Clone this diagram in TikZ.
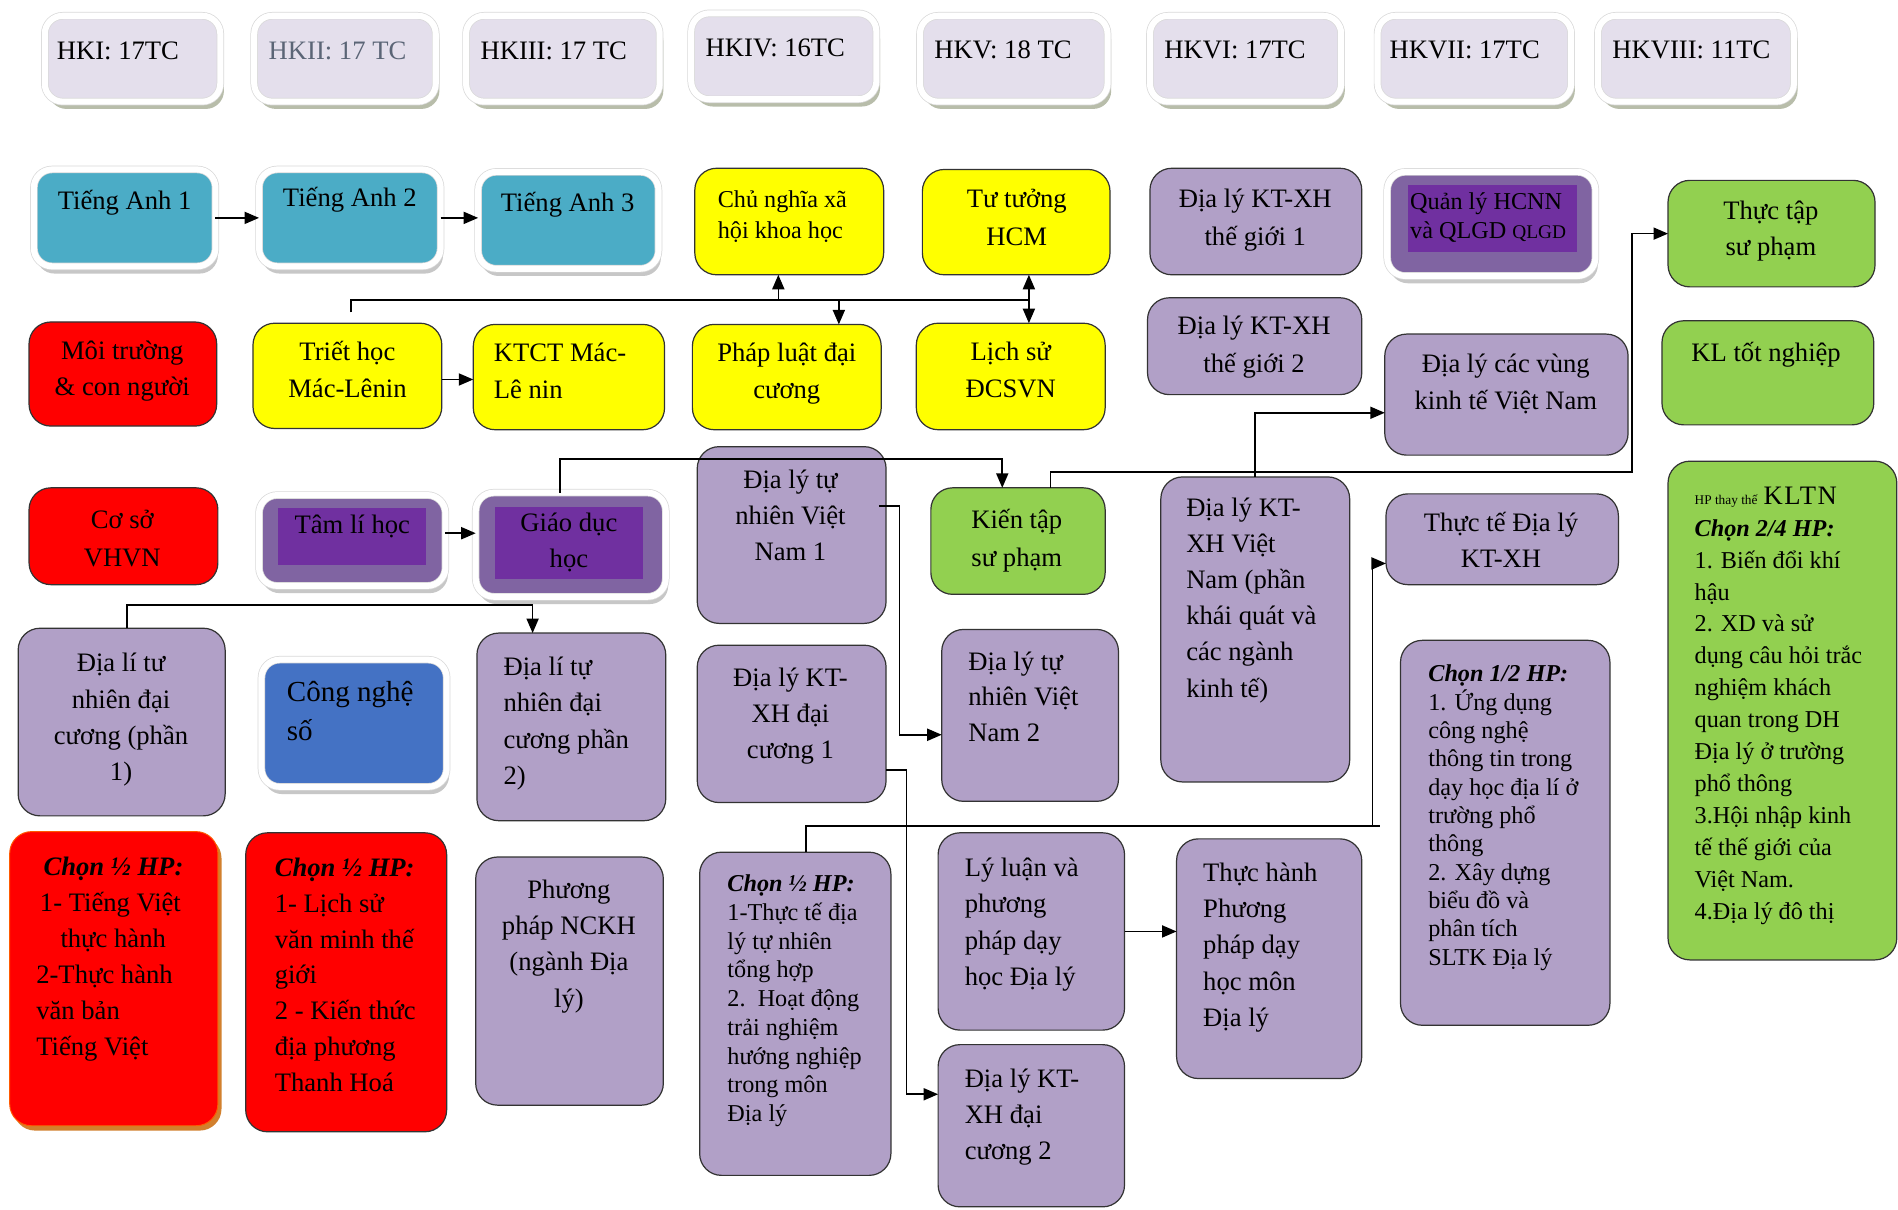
\documentclass[tikz,border=0pt]{standalone}
\usepackage{fontspec}
\setmainfont{Liberation Serif}
\usetikzlibrary{arrows.meta,shadows,calc}
\definecolor{hdrfill}{HTML}{E4DFEC}
\definecolor{tealc}{HTML}{4BACC6}
\definecolor{ylwc}{HTML}{FFFF00}
\definecolor{redc}{HTML}{FF0000}
\definecolor{lpur}{HTML}{B1A0C7}
\definecolor{mpur}{HTML}{8064A2}
\definecolor{dpur}{HTML}{7030A0}
\definecolor{grnc}{HTML}{92D050}
\definecolor{bluec}{HTML}{4472C4}
\definecolor{hdrshadow}{HTML}{B8BDAA}
\definecolor{slate}{HTML}{5B6576}
\newcommand\fsz[2]{\fontsize{#1}{#2}\selectfont\lineskiplimit=-30pt}
\newcommand\bx[6]{\node[#2,anchor=north west,minimum width={#5-#3},minimum height={#6-#4}] (#1) at (#3,#4) {};}
\tikzset{
 bxbase/.style={rounded corners=18pt, inner sep=0pt, outer sep=0pt},
 blk/.style={bxbase, draw=black!80, line width=1pt},
 ylwbox/.style={blk, fill=ylwc},
 redbox/.style={blk, fill=redc},
 purbox/.style={blk, fill=lpur},
 grnbox/.style={blk, fill=grnc},
 glowbox/.style={bxbase, rounded corners=15pt, draw=black!15, double=white, double distance=5pt, line width=0.6pt},
 hdrbox/.style={glowbox, fill=hdrfill, drop shadow={shadow xshift=3pt, shadow yshift=-6pt, fill=hdrshadow, opacity=1}},
 tealbox/.style={glowbox, fill=tealc, drop shadow={shadow xshift=2pt, shadow yshift=-6pt, fill=black!22, opacity=1}},
 mpurbox/.style={glowbox, fill=mpur, drop shadow={shadow xshift=2pt, shadow yshift=-6pt, fill=black!22, opacity=1}},
 bluebox/.style={glowbox, fill=bluec, drop shadow={shadow xshift=2pt, shadow yshift=-6pt, fill=black!22, opacity=1}},
 chonred/.style={bxbase, fill=redc, draw=orange!70!red, line width=0.8pt, drop shadow={shadow xshift=3pt, shadow yshift=-4pt, fill=brown!70!orange, opacity=1}},
 innerbox/.style={fill=dpur, inner sep=0pt, outer sep=0pt},
 txt/.style={inner sep=0pt, outer sep=0pt, font=\fsz{22}{30}},
 ln/.style={line width=1.3pt, draw=black},
 arr/.style={ln, -{Triangle[length=12pt,width=10pt]}},
 arrtwo/.style={ln, {Triangle[length=12pt,width=10pt]}-{Triangle[length=12pt,width=10pt]}},
}
\begin{document}
\begin{tikzpicture}[x=1pt,y=-1pt]
\fill[white] (0,0) rectangle (1568,999);
\useasboundingbox (0,0) rectangle (1568,999);
% headers
\bx{h1}{hdrbox}{37}{13}{182}{84}
\bx{h2}{hdrbox}{210}{13}{360}{84}
\bx{h3}{hdrbox}{385}{13}{545}{84}
\bx{h4}{hdrbox}{571}{11}{724}{82}
\bx{h5}{hdrbox}{760}{13}{915}{84}
\bx{h6}{hdrbox}{950}{13}{1108}{84}
\bx{h7}{hdrbox}{1138}{13}{1298}{84}
\bx{h8}{hdrbox}{1320}{13}{1482}{84}
% row 1
\bx{ta1}{tealbox}{28}{140}{178}{220}
\bx{ta2}{tealbox}{214}{140}{364}{220}
\bx{ta3}{tealbox}{395}{142}{544}{222}
\bx{cnxh}{ylwbox}{574}{139}{730}{227}
\bx{hcm}{ylwbox}{762}{140}{917}{227}
\bx{dltg1}{purbox}{950}{139}{1125}{227}
\bx{qly}{mpurbox}{1146}{142}{1318}{228}
\node[innerbox,anchor=north west,minimum width=140,minimum height=55] (qlyin) at (1163,153) {};
\bx{thuctap}{grnbox}{1378}{149}{1549}{237}
% row 2
\bx{moitruong}{redbox}{24}{266}{179}{352}
\bx{triet}{ylwbox}{209}{267}{365}{354}
\bx{ktct}{ylwbox}{391}{268}{549}{355}
\bx{phapluat}{ylwbox}{572}{268}{728}{355}
\bx{lichsu}{ylwbox}{757}{267}{913}{355}
\bx{dltg2}{purbox}{948}{246}{1125}{326}
\bx{dlcv}{purbox}{1144}{276}{1345}{376}
\bx{kltn}{grnbox}{1373}{265}{1548}{351}
% row 3
\bx{coso}{redbox}{24}{403}{180}{483}
\bx{tamli}{mpurbox}{214}{409}{368}{484}
\node[innerbox,anchor=north west,minimum width=122,minimum height=47] (tamliin) at (230,420) {};
\bx{giaoduc}{mpurbox}{393}{407}{550}{493}
\node[innerbox,anchor=north west,minimum width=122,minimum height=59] (giaoducin) at (409,419) {};
\bx{tnvn1}{purbox}{576}{369}{732}{515}
\bx{kientap}{grnbox}{769}{403}{913}{491}
\bx{dlvn}{purbox}{959}{394}{1115}{646}
\bx{thucte}{purbox}{1145}{408}{1337}{483}
\bx{klthay}{grnbox}{1378}{381}{1567}{793}
% row 4
\bx{tndc1}{purbox}{15}{519}{186}{674}
\bx{cns}{bluebox}{216}{545}{369}{650}
\bx{tndc2}{purbox}{394}{523}{550}{678}
\bx{ktdc1}{purbox}{576}{533}{732}{663}
\bx{tnvn2}{purbox}{778}{520}{924}{662}
\bx{chon12}{purbox}{1157}{529}{1330}{847}
% row 5
\bx{chon1}{chonred}{8}{687}{180}{930}
\bx{chon2}{redbox}{203}{688}{369}{935}
\bx{ppnckh}{purbox}{393}{708}{548}{913}
\bx{chon3}{purbox}{578}{704}{736}{971}
\bx{lyluan}{purbox}{775}{688}{929}{851}
\bx{ktdc2}{purbox}{775}{863}{929}{997}
\bx{thpp}{purbox}{972}{693}{1125}{891}

% texts: headers
\node[txt,anchor=base west] (th1) at (47,49) {HKI: 17TC};
\node[txt,anchor=base west,text=slate] (th2) at (222,49) {HKII: 17 TC};
\node[txt,anchor=base west] (th3) at (397,49) {HKIII: 17 TC};
\node[txt,anchor=base west] (th4) at (583,47) {HKIV: 16TC};
\node[txt,anchor=base west] (th5) at (772,48) {HKV: 18 TC};
\node[txt,anchor=base west] (th6) at (962,48) {HKVI: 17TC};
\node[txt,anchor=base west] (th7) at (1148,48) {HKVII: 17TC};
\node[txt,anchor=base west] (th8) at (1332,48) {HKVIII: 11TC};
% row 1 texts
\node[txt,anchor=base] (tta1) at (103,173) {Tiếng Anh 1};
\node[txt,anchor=base] (tta2) at (289,171) {Tiếng Anh 2};
\node[txt,anchor=base] (tta3) at (469,175) {Tiếng Anh 3};
\node[txt,font=\fsz{20}{26},align=left,anchor=north west] (tcnxh) at (593,153) {\strut Chủ nghĩa xã\\hội khoa học};
\node[txt,font=\fsz{22}{31},align=center,anchor=north] (thcm) at (840,150) {\strut Tư tưởng\\HCM};
\node[txt,font=\fsz{22}{31},align=center,anchor=north] (tdltg1) at (1037,150) {\strut Địa lý KT-XH\\thế giới 1};
\node[txt,font=\fsz{20}{24},align=left,anchor=north west] (tqly) at (1165,156) {\strut Quản lý HCNN\\và QLGD {\fsz{16}{24}QLGD}};
\node[txt,align=center,anchor=north] (tthuctap) at (1463,160) {\strut Thực tập\\sư phạm};
% row 2 texts
\node[txt,align=center,anchor=north] (tmoitruong) at (101,276) {\strut Môi trường\\\& con người};
\node[txt,align=center,anchor=north] (ttriet) at (287,277) {\strut Triết học\\Mác-Lênin};
\node[txt,align=left,anchor=north west] (tktct) at (408,278) {\strut KTCT Mác-\\Lê nin};
\node[txt,align=center,anchor=north] (tphapluat) at (650,278) {\strut Pháp luật đại\\cương};
\node[txt,align=center,anchor=north] (tlichsu) at (835,277) {\strut Lịch sử\\ĐCSVN};
\node[txt,font=\fsz{22}{31},align=center,anchor=north] (tdltg2) at (1036,255) {\strut Địa lý KT-XH\\thế giới 2};
\node[txt,font=\fsz{22}{31},align=center,anchor=north] (tdlcv) at (1244,286) {\strut Địa lý các vùng\\kinh tế Việt Nam};
\node[txt,align=center,anchor=north] (tkltn) at (1459,278) {\strut KL tốt nghiệp};
% row 3 texts
\node[txt,font=\fsz{22}{32},align=center,anchor=north] (tcoso) at (101,414) {\strut Cơ sở\\VHVN};
\node[txt,anchor=base] (ttamli) at (291,441) {Tâm lí học};
\node[txt,align=center,anchor=north] (tgiaoduc) at (470,418) {\strut Giáo dục\\học};
\node[txt,font=\fsz{22}{29.5},align=center,anchor=north] (ttnvn1) at (653,383) {\strut Địa lý tự\\nhiên Việt\\Nam 1};
\node[txt,font=\fsz{22}{31},align=center,anchor=north] (tkientap) at (840,415) {\strut Kiến tập\\sư phạm};
\node[txt,font=\fsz{22}{29.8},align=left,anchor=north west] (tdlvn) at (980,406) {\strut Địa lý KT-\\XH Việt\\Nam (phần\\khái quát và\\các ngành\\kinh tế)};
\node[txt,align=center,anchor=north] (tthucte) at (1240,418) {\strut Thực tế Địa lý\\KT-XH};
\node[txt,font=\fsz{20}{26.4},align=left,anchor=north west] (tklthay) at (1400,398) {\strut{\fsz{11}{26.4}HP thay thế} {\fsz{22}{26.4}\addfontfeature{LetterSpace=6}KLTN}\\\textbf{\textit{Chọn 2/4 HP:}}\\1. Biến đổi khí\\hậu\\2. XD và sử\\dụng câu hỏi trắc\\nghiệm khách\\quan trong DH\\Địa lý ở trường\\phổ thông\\3.Hội nhập kinh\\tế thế giới của\\Việt Nam.\\4.Địa lý đô thị};
% row 4 texts
\node[txt,align=center,anchor=north] (ttndc1) at (100,534) {\strut Địa lí tư\\nhiên đại\\cương (phần\\1)};
\node[txt,font=\fsz{24}{32},align=left,anchor=north west] (tcns) at (237,557) {\strut Công nghệ\\số};
\node[txt,align=left,anchor=north west] (ttndc2) at (416,537) {\strut Địa lí tự\\nhiên đại\\cương phần\\2)};
\node[txt,align=center,anchor=north] (tktdc1) at (653,546) {\strut Địa lý KT-\\XH đại\\cương 1};
\node[txt,font=\fsz{22}{29.5},align=left,anchor=north west] (ttnvn2) at (800,533) {\strut Địa lý tự\\nhiên Việt\\Nam 2};
\node[txt,font=\fsz{20}{23.4},align=left,anchor=north west] (tchon12) at (1180,547) {\strut\textbf{\textit{Chọn 1/2 HP:}}\\1. Ứng dụng\\công nghệ\\thông tin trong\\dạy học địa lí ở\\trường phổ\\thông\\2. Xây dựng\\biểu đồ và\\phân tích\\SLTK Địa lý};
% row 5 texts
\node[txt,font=\fsz{22}{29.8},align=left,anchor=north west] (tchon1) at (30,702) {\strut\hspace*{6pt}\textbf{\textit{Chọn ½ HP:}}\\\hspace*{3pt}1- Tiếng Việt\\\hspace*{20pt}thực hành\\2-Thực hành\\văn bản\\Tiếng Việt};
\node[txt,font=\fsz{22}{29.7},align=left,anchor=north west] (tchon2) at (227,703) {\strut\textbf{\textit{Chọn ½ HP:}}\\1- Lịch sử\\văn minh thế\\giới\\2 - Kiến thức\\địa phương\\Thanh Hoá};
\node[txt,align=center,anchor=north] (tppnckh) at (470,721) {\strut Phương\\pháp NCKH\\(ngành Địa\\lý)};
\node[txt,font=\fsz{20}{23.75},align=left,anchor=north west] (tchon3) at (601,720) {\strut\textbf{\textit{Chọn ½ HP:}}\\1-Thực tế địa\\lý tự nhiên\\tổng hợp\\2.\ \ Hoạt động\\trải nghiệm\\hướng nghiệp\\trong môn\\Địa lý};
\node[txt,align=left,anchor=north west] (tlyluan) at (797,703) {\strut Lý luận và\\phương\\pháp dạy\\học Địa lý};
\node[txt,align=left,anchor=north west] (tktdc2) at (797,877) {\strut Địa lý KT-\\XH đại\\cương 2};
\node[txt,align=left,anchor=north west] (tthpp) at (994,707) {\strut Thực hành\\Phương\\pháp dạy\\học môn\\Địa lý};

% connectors
\draw[arr] (ta1.east) -- (ta1.east -| ta2.west);
\draw[arr] (ta2.east) -- (ta2.east -| ta3.west);
\draw[arr] ($(triet.east)+(0,3)$) -- ($(triet.east)+(26,3)$);
\coordinate (ca) at ($(tamli.east)+(0,-6)$);
\draw[arr] (ca) -- (ca -| giaoduc.west);
\draw[arr] (lyluan.east) -- (lyluan.east -| thpp.west);
% political bus
\coordinate (bus) at ($(hcm.south)+(10.5,21)$);
\draw[ln] ($(triet.north)+(3,-9)$) |- (bus);
\coordinate (cup) at ($(cnxh.south)+(-9,0)$);
\draw[arr] (cup |- bus) -- (cup);
\coordinate (cdn) at ($(phapluat.north)+(43,0)$);
\draw[arr] (cdn |- bus) -- (cdn);
\coordinate (chc) at ($(hcm.south)+(10.5,0)$);
\draw[arrtwo] (chc) -- (chc |- lichsu.north);
% Giao duc -> Kien tap
\coordinate (gd) at ($(giaoduc.north)+(-9,0)$);
\coordinate (kt) at ($(kientap.north)+(-13,0)$);
\draw[arr] (gd) |- ($(kt)+(0,-24)$) -- (kt);
% Kien tap -> Thuc tap
\coordinate (k2) at ($(kientap.north)+(27,0)$);
\coordinate (jr) at ($(thuctap.west)+(-30,0)$);
\draw[arr] (k2) |- ($(jr |- k2)+(0,-13)$) -- (jr |- thuctap.west) -- (thuctap.west);
% DL KT-XH VN -> cac vung
\draw[arr] (dlvn.north) |- ($(dlcv.west)+(0,15)$);
% TN VN1 -> VN2
\coordinate (a1) at ($(tnvn1.east)+(-6,-24)$);
\coordinate (a2) at ($(tnvn2.west)+(-35,16)$);
\draw[arr] (a1) -| (a2) -- (a2 -| tnvn2.west);
% KT DC1 -> DC2
\coordinate (a3) at ($(ktdc1.east)+(0,38)$);
\coordinate (a4) at ($(ktdc2.west)+(-26,-26)$);
\draw[arr] (a3) -| (a4) -- (a4 -| ktdc2.west);
% Chon3 -> Thuc te
\coordinate (a5) at ($(chon3.north)+(9,0)$);
\coordinate (a6) at ($(thucte.west)+(-11,20)$);
\coordinate (a6b) at ($(a6)+(0,217)$);
\draw[arr] (a5) |- (a6b) -- (a6) -- (a6 -| thucte.west);
\draw[ln] (a6b) -- ++(6,0);
% TN DC1 -> DC2
\coordinate (a7) at ($(tndc1.north)+(4.5,0)$);
\coordinate (a8) at ($(tndc2.north)+(-32,0)$);
\draw[arr] (a7) |- ($(a8)+(0,-23)$) -- (a8);
\end{tikzpicture}
\end{document}
